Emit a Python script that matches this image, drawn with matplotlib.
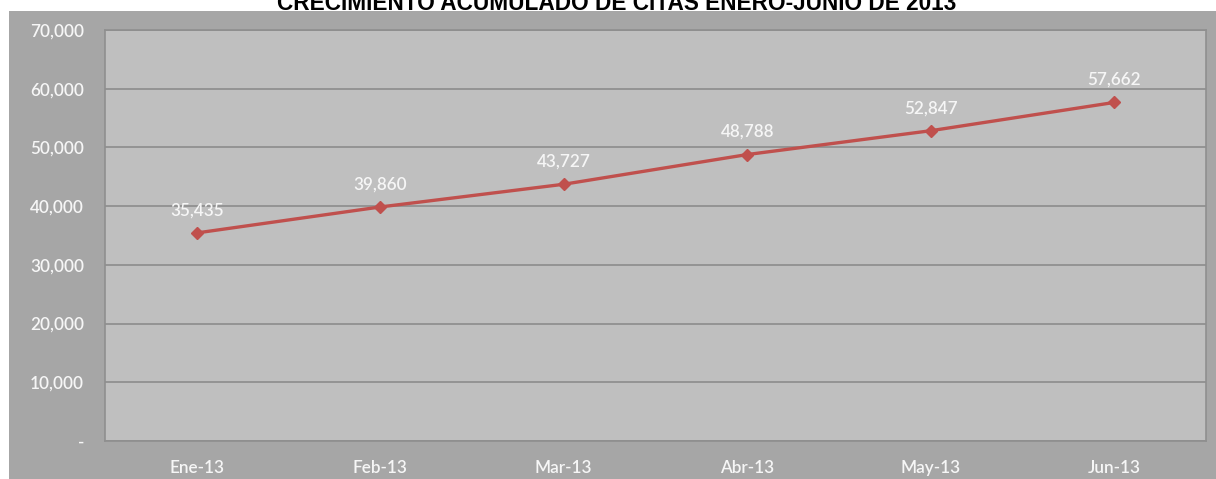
import matplotlib
matplotlib.use("Agg")
import matplotlib.pyplot as plt
from matplotlib.ticker import FuncFormatter

months = ["Ene-13", "Feb-13", "Mar-13", "Abr-13", "May-13", "Jun-13"]
citas = [35435, 39860, 43727, 48788, 52847, 57662]
y_ticks = [0, 10000, 20000, 30000, 40000, 50000, 60000, 70000]
title = "CRECIMIENTO ACUMULADO DE CITAS ENERO-JUNIO DE 2013"

W, H = 1216, 479
fig = plt.figure(figsize=(W / 100, H / 100), dpi=100)
fig.patch.set_facecolor("white")

# outer chart frame
bg = fig.add_axes([9 / W, 0, 1 - 9 / W, (H - 11) / H], zorder=0)
bg.set_facecolor("#a6a6a6")
bg.set_xticks([])
bg.set_yticks([])
for s in bg.spines.values():
    s.set_visible(False)

ax = fig.add_axes([105 / W, 1 - 441 / H, (1206 - 105) / W, (441 - 30) / H], zorder=1)
ax.set_facecolor("#bfbfbf")
for s in ax.spines.values():
    s.set_color("#8f8f8f")
    s.set_linewidth(1.2)

x = list(range(len(months)))
ax.plot(x, citas, color="#c0504d", linewidth=2.4, marker="D",
        markersize=6.5, markerfacecolor="#c0504d", markeredgecolor="#c0504d",
        zorder=3)

for xi, v in zip(x, citas):
    ax.annotate(f"{v:,}", (xi, v), xytext=(0, 10.5), textcoords="offset points",
                ha="center", va="bottom", color="#f6f6f6", fontsize=12.3,
                family="Lato", fontweight="semibold")

ax.set_xlim(-0.5, len(months) - 0.5)
ax.set_ylim(0, 70000)
ax.set_yticks(y_ticks)
ax.yaxis.set_major_formatter(FuncFormatter(lambda v, p: "-" if v == 0 else f"{int(v):,}"))
ax.set_xticks(x)
ax.set_xticklabels(months)
ax.grid(axis="y", color="#8c8c8c", linewidth=1.2)
ax.set_axisbelow(True)
ax.tick_params(axis="both", length=0, colors="#f6f6f6", labelsize=12.3)
ax.tick_params(axis="y", pad=15)
ax.tick_params(axis="x", pad=14)
for lab in ax.get_xticklabels() + ax.get_yticklabels():
    lab.set_family("Lato")
    lab.set_fontweight("semibold")

fig.text(0.5 + 9 / W, 1 - 9.5 / H, title, ha="center", va="baseline",
         fontsize=16.3, fontweight="bold", family="Liberation Sans", color="black")

fig.savefig("out.png", dpi=100)
